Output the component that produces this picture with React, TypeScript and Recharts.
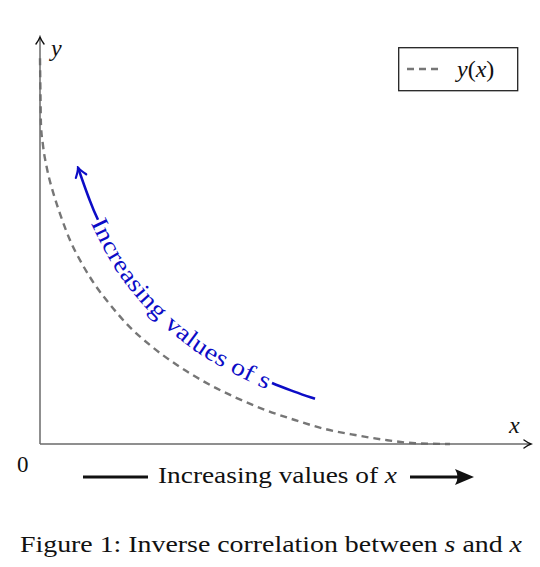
import { LineChart, Line, XAxis, YAxis, Legend, Customized } from 'recharts';

// dashed curve y(x) (axis units 0..10 on both axes)
const curveX = [0, 0.01, 0.02, 0.06, 0.14, 0.27, 0.41, 0.61, 0.86, 1.12, 1.43, 1.79, 2.24, 2.79, 3.36, 3.97, 4.58, 5.19, 5.8, 6.42, 7.03, 7.64, 8.35];
const curveY = [9.48, 8.57, 7.84, 7.35, 6.78, 6.17, 5.65, 5.01, 4.42, 3.91, 3.42, 2.92, 2.43, 1.94, 1.52, 1.15, 0.84, 0.59, 0.37, 0.22, 0.1, 0.02, 0];

// blue "increasing s" arc, from the arrow tip down to its tail
const arcX = [0.774, 0.978, 1.181, 1.629, 2.138, 2.749, 3.36, 4.073, 4.725, 5.193, 5.601];
const arcY = [6.79, 6.1, 5.51, 4.48, 3.66, 2.92, 2.36, 1.87, 1.5, 1.28, 1.11];
const TEXT_FROM = 2;
const TEXT_TO = 8;

const curveData = curveX.map((x, i) => ({ x, y: curveY[i] }));
const arcData = arcX.map((x, i) => ({ x, y: arcY[i] }));

const INK = '#111';
const AXIS = '#6a6a6a';
const BLUE = '#0c0cc6';
const DASH = '#767676';
const SERIF = "'Liberation Serif', 'Times New Roman', Times, serif";
const serif = { fontFamily: SERIF };

type Pt = { x: number; y: number };

// catmull-rom through pts[a..b], using the neighbours from the whole list
function segPath(pts: Pt[], a: number, b: number) {
  let d = `M${pts[a].x},${pts[a].y}`;
  for (let i = a; i < b; i++) {
    const p0 = pts[i - 1] || pts[i];
    const p1 = pts[i];
    const p2 = pts[i + 1];
    const p3 = pts[i + 2] || p2;
    const c1x = p1.x + (p2.x - p0.x) / 6;
    const c1y = p1.y + (p2.y - p0.y) / 6;
    const c2x = p2.x - (p3.x - p1.x) / 6;
    const c2y = p2.y - (p3.y - p1.y) / 6;
    d += ` C${c1x},${c1y} ${c2x},${c2y} ${p2.x},${p2.y}`;
  }
  return d;
}

function ArcNote(props: any) {
  const { index, points } = props;
  if (!points || index !== points.length - 1) return <g key={`arc-${index}`} />;
  const pts: Pt[] = points.map((p: any) => ({ x: p.x, y: p.y }));
  let len = 0;
  for (let i = TEXT_FROM; i < TEXT_TO; i++) {
    len += Math.hypot(pts[i + 1].x - pts[i].x, pts[i + 1].y - pts[i].y);
  }
  return (
    <g key="arc-note">
      <path d={segPath(pts, 0, TEXT_FROM)} fill="none" stroke={BLUE} strokeWidth={2.6} markerStart="url(#blueTip)" />
      <path d={segPath(pts, TEXT_TO, pts.length - 1)} fill="none" stroke={BLUE} strokeWidth={2.6} />
      <path id="sPath" d={segPath(pts, TEXT_FROM, TEXT_TO)} fill="none" stroke="none" />
      <text style={serif} fontSize={24} fill={BLUE} dominantBaseline="central">
        <textPath href="#sPath" textLength={len - 2} lengthAdjust="spacingAndGlyphs">
          Increasing values of s
        </textPath>
      </text>
    </g>
  );
}

function LegendBox() {
  return (
    <svg width={121} height={45} style={{ display: 'block' }}>
      <rect x={0.7} y={0.7} width={119} height={43} fill="#fff" stroke="#222" strokeWidth={1.3} />
      <line x1={9} x2={44} y1={22} y2={22} stroke={DASH} strokeWidth={2.4} strokeDasharray="7 5" />
      <text x={59} y={30} style={serif} fontSize={24} fill={INK}>
        <tspan fontStyle="italic">y</tspan>(<tspan fontStyle="italic">x</tspan>)
      </text>
    </svg>
  );
}

function Notes() {
  return (
    <g style={serif} fill={INK}>
      <text x={51} y={56} style={serif} fontSize={24} fontStyle="italic">y</text>
      <text x={509} y={433} style={serif} fontSize={24} fontStyle="italic">x</text>
      <text x={17} y={472} style={serif} fontSize={23}>0</text>
      <line x1={83} x2={148} y1={477} y2={477} stroke={INK} strokeWidth={2.8} />
      <text x={158} y={483} style={serif} fontSize={24} textLength={239} lengthAdjust="spacingAndGlyphs">
        Increasing values of <tspan fontStyle="italic">x</tspan>
      </text>
      <line x1={410} x2={462} y1={477} y2={477} stroke={INK} strokeWidth={2.8} />
      <path d="M474,477 L455,469 Q460,477 455,485 Z" fill={INK} />
      <text x={20} y={552} style={serif} fontSize={24} textLength={502} lengthAdjust="spacingAndGlyphs">
        Figure 1: Inverse correlation between <tspan fontStyle="italic">s</tspan> and{' '}
        <tspan fontStyle="italic">x</tspan>
      </text>
    </g>
  );
}

export default function App() {
  return (
    <div style={{ position: 'absolute', left: 0, top: 0, width: 540, height: 567, background: '#fff' }}>
      <svg width={0} height={0} style={{ position: 'absolute' }}>
        <defs>
          <marker id="axisTip" viewBox="-10 -6 12 12" refX={0} refY={0} markerWidth={12} markerHeight={12}
            markerUnits="userSpaceOnUse" orient="auto-start-reverse">
            <path d="M-7,-4 Q-2.5,-0.8 0,0 Q-2.5,0.8 -7,4" fill="none" stroke={INK} strokeWidth={1.4} strokeLinecap="round" />
          </marker>
          <marker id="blueTip" viewBox="-14 -8 16 16" refX={0} refY={0} markerWidth={16} markerHeight={16}
            markerUnits="userSpaceOnUse" orient="auto-start-reverse">
            <path d="M-9,-5.5 Q-3,-1 0,0 Q-3,1 -9,5.5" fill="none" stroke={BLUE} strokeWidth={2.2} strokeLinecap="round" />
          </marker>
        </defs>
      </svg>
      <LineChart width={540} height={567} margin={{ top: 37, right: 9, bottom: 122, left: 39 }}>
        <XAxis
          type="number"
          dataKey="x"
          domain={[0, 10]}
          height={1}
          tick={false}
          tickLine={false}
          axisLine={{ stroke: AXIS, strokeWidth: 1.5, markerEnd: 'url(#axisTip)' }}
        />
        <YAxis
          type="number"
          domain={[0, 10]}
          width={1}
          tick={false}
          tickLine={false}
          axisLine={{ stroke: AXIS, strokeWidth: 1.5, markerStart: 'url(#axisTip)' }}
        />
        <Legend
          layout="vertical"
          align="center"
          verticalAlign="middle"
          wrapperStyle={{ left: 398, top: 47, width: 121, height: 45 }}
          content={() => <LegendBox />}
        />
        <Line
          data={curveData}
          dataKey="y"
          name="y(x)"
          type="monotone"
          stroke={DASH}
          strokeWidth={2.4}
          strokeDasharray="7 5"
          dot={false}
          activeDot={false}
          isAnimationActive={false}
        />
        <Line
          data={arcData}
          dataKey="y"
          name="s"
          type="monotone"
          stroke="none"
          legendType="none"
          dot={ArcNote}
          activeDot={false}
          isAnimationActive={false}
        />
        <Customized component={Notes} />
      </LineChart>
    </div>
  );
}
